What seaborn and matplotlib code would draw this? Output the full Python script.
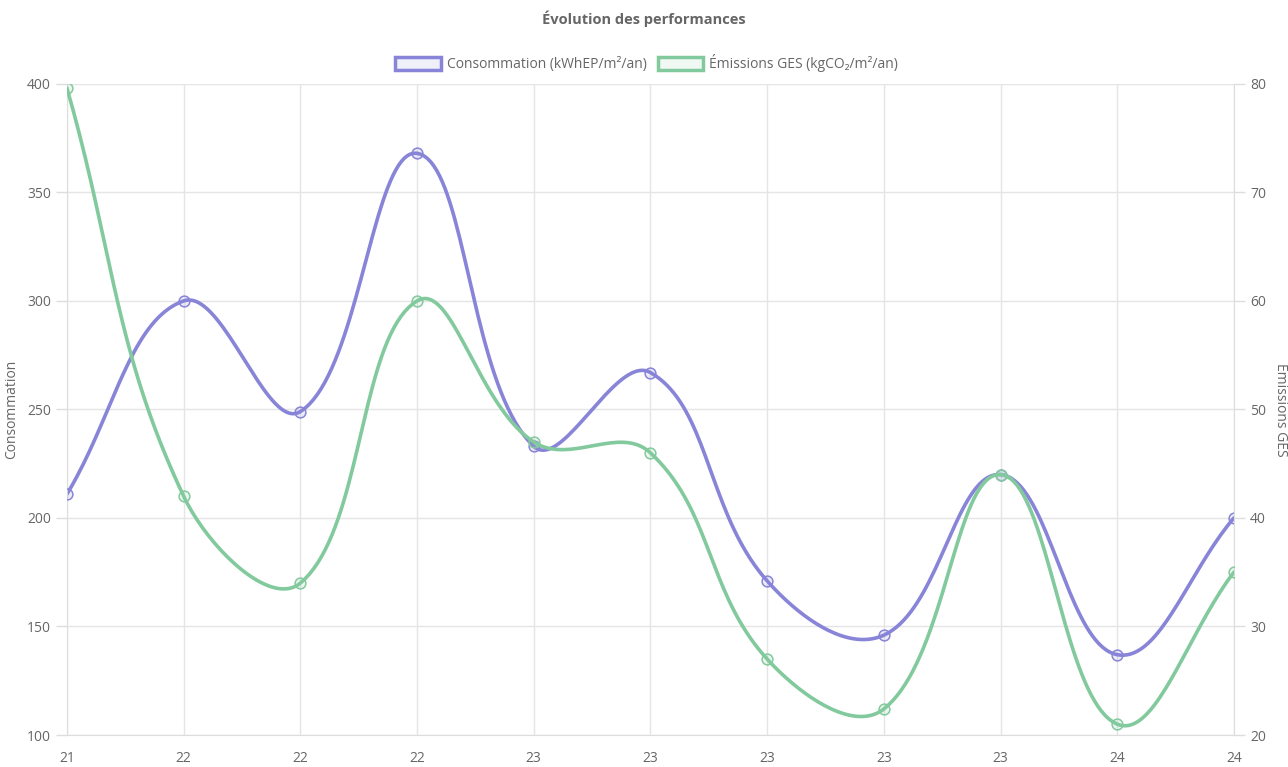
import numpy as np
import pandas as pd
import matplotlib
matplotlib.use("Agg")
import matplotlib.pyplot as plt
from matplotlib.patches import Patch
import seaborn as sns

# data
labels = ["21", "22", "22", "22", "23", "23", "23", "23", "23", "24", "24"]
consommation = [211, 300, 249, 368, 233, 267, 171, 146, 220, 137, 200]
emissions = [79.6, 42, 34, 60, 47, 46, 27, 22.4, 44, 21, 35]

purple = "#8884d8"
green = "#82ca9d"
grey = "#666666"

sns.set_style("white")
plt.rcParams["font.family"] = ["Open Sans", "DejaVu Sans"]


def smooth(xs, ys, sx, sy, tension=0.4, n=40):
    # chart.js style bezier spline, done in pixel-like units
    px = np.array(xs, float) * sx
    py = np.array(ys, float) * sy
    m = len(px)
    cp_prev = np.zeros((m, 2))
    cp_next = np.zeros((m, 2))
    for i in range(m):
        p0 = np.array([px[max(i - 1, 0)], py[max(i - 1, 0)]])
        p1 = np.array([px[i], py[i]])
        p2 = np.array([px[min(i + 1, m - 1)], py[min(i + 1, m - 1)]])
        d01 = np.hypot(*(p1 - p0))
        d12 = np.hypot(*(p2 - p1))
        tot = d01 + d12
        s01 = d01 / tot if tot else 0
        s12 = d12 / tot if tot else 0
        cp_prev[i] = p1 - tension * s01 * (p2 - p0)
        cp_next[i] = p1 + tension * s12 * (p2 - p0)
    out_x, out_y = [], []
    t = np.linspace(0, 1, n)
    for i in range(m - 1):
        a = np.array([px[i], py[i]])
        b = cp_next[i]
        c = cp_prev[i + 1]
        d = np.array([px[i + 1], py[i + 1]])
        pts = ((1 - t) ** 3)[:, None] * a + (3 * (1 - t) ** 2 * t)[:, None] * b \
            + (3 * (1 - t) * t ** 2)[:, None] * c + (t ** 3)[:, None] * d
        out_x.extend(pts[:, 0] / sx)
        out_y.extend(pts[:, 1] / sy)
    return np.array(out_x), np.array(out_y)


x = np.arange(len(labels))
df = pd.DataFrame({"x": x, "conso": consommation, "ges": emissions})

fig = plt.figure(figsize=(12.88, 7.67), dpi=100)
ax = fig.add_axes([0.052, 0.0417, 0.906, 0.849])
ax2 = ax.twinx()

cx, cy = smooth(x, consommation, 116.7, 2.17)
gx, gy = smooth(x, emissions, 116.7, 10.85)

sns.lineplot(x=cx, y=cy, ax=ax, color=purple, lw=2.6, sort=False)
sns.scatterplot(data=df, x="x", y="conso", ax=ax, s=60, marker="o",
                facecolor=(0.53, 0.52, 0.85, 0.15), edgecolor=purple, linewidth=1.1, zorder=3)
sns.lineplot(x=gx, y=gy, ax=ax2, color=green, lw=2.6, sort=False)
sns.scatterplot(data=df, x="x", y="ges", ax=ax2, s=60, marker="o",
                facecolor=(0.51, 0.79, 0.62, 0.15), edgecolor=green, linewidth=1.1, zorder=3)

ax.set_xlim(0, 10)
ax.set_ylim(100, 400)
ax2.set_ylim(20, 80)
ax.set_yticks(range(100, 401, 50))
ax2.set_yticks(range(20, 81, 10))
ax.set_xticks(x)
ax.set_xticklabels(labels)

ax.grid(True, color="#e5e5e5", lw=1)
ax2.grid(False)
for a in (ax, ax2):
    for s in a.spines.values():
        s.set_visible(False)
    a.tick_params(colors="#dddddd", labelcolor=grey, labelsize=10, length=8, width=1)
    a.set_xlabel("")
ax.spines["bottom"].set_visible(True)
ax.spines["bottom"].set_color("#dddddd")
ax.spines["left"].set_visible(True)
ax.spines["left"].set_color("#dddddd")
ax2.spines["right"].set_visible(True)
ax2.spines["right"].set_color("#dddddd")

ax.set_ylabel("Consommation", color=grey, fontsize=10, labelpad=6)
ax2.set_ylabel("Émissions GES", color=grey, fontsize=10, rotation=270, labelpad=16)

fig.text(0.5, 0.975, "Évolution des performances", ha="center", va="center",
         fontsize=10.5, fontweight="bold", color=grey)

handles = [
    Patch(facecolor=(0.53, 0.52, 0.85, 0.12), edgecolor=purple, linewidth=2.5,
          label="Consommation (kWhEP/m²/an)"),
    Patch(facecolor=(0.51, 0.79, 0.62, 0.12), edgecolor=green, linewidth=2.5,
          label="Émissions GES (kgCO₂/m²/an)"),
]
leg = fig.legend(handles=handles, loc="center", bbox_to_anchor=(0.502, 0.918), ncol=2,
                 frameon=False, fontsize=10, handlelength=3.3, handleheight=1.1,
                 handletextpad=0.4, columnspacing=0.8)
for t in leg.get_texts():
    t.set_color(grey)

fig.savefig("out.png", dpi=100)
